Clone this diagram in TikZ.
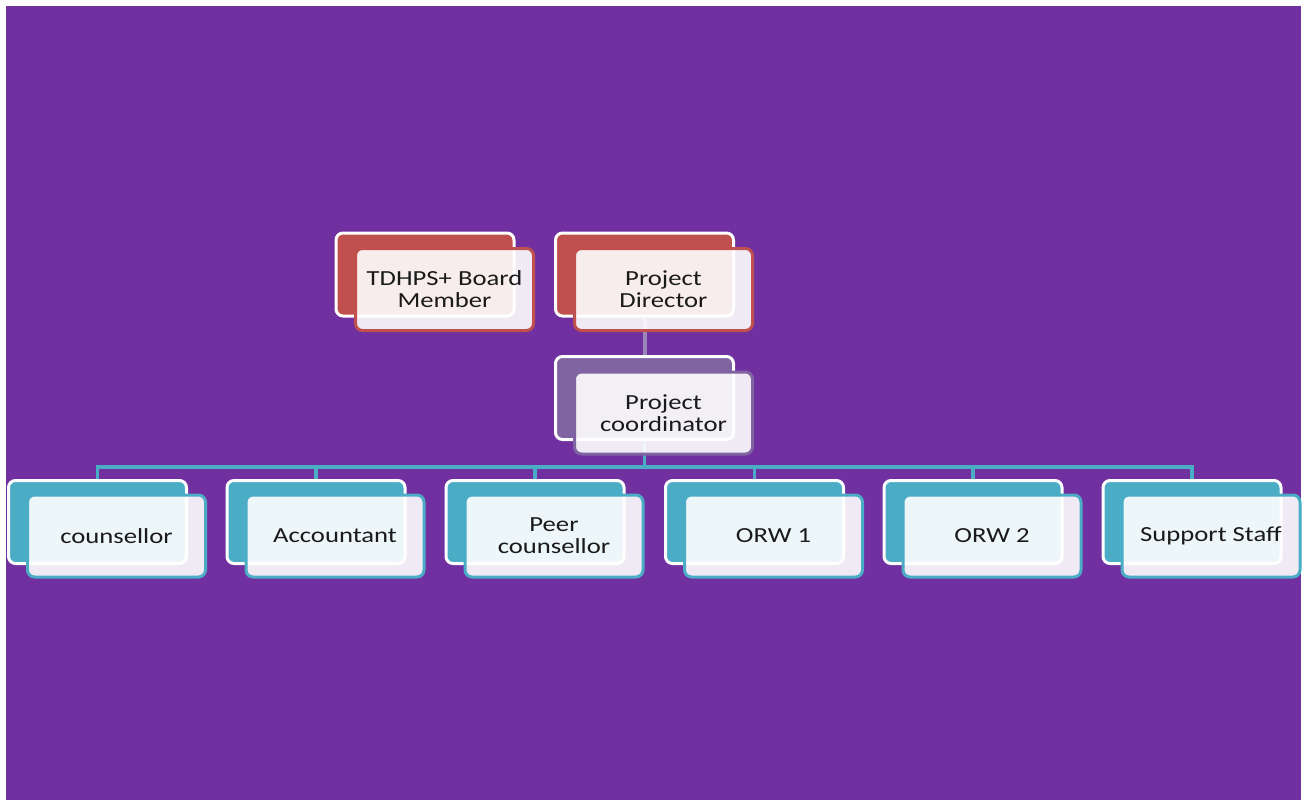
\documentclass[tikz,border=0pt]{standalone}
\usepackage{fontspec}
\setmainfont[FakeStretch=1.24]{Carlito}
\pgfdeclarelayer{bg}
\pgfdeclarelayer{lines}
\pgfsetlayers{bg,lines,main}
\definecolor{bgpurple}{HTML}{7030A0}
\definecolor{accred}{HTML}{C0504D}
\definecolor{accteal}{HTML}{4BACC6}
\definecolor{accpurple}{HTML}{8064A2}
\definecolor{linkpurple}{HTML}{9A87B8}
\definecolor{txt}{HTML}{1A1A1A}
\tikzset{
  backbox/.style={rectangle, rounded corners=7pt, draw=white, line width=3pt,
    fill=#1, minimum width=178pt, minimum height=83pt, inner sep=0pt},
  frontbox/.style={rectangle, rounded corners=7pt, draw=#1, line width=3pt,
    fill=white, fill opacity=0.9, text opacity=1, minimum width=178pt, minimum height=82pt,
    inner sep=0pt, align=center, text=txt,
    font=\fontsize{21.5}{22}\selectfont},
  tealline/.style={draw=accteal, line width=3.2pt},
  purpline/.style={draw=linkpurple, line width=4pt},
}
\begin{document}
\begin{tikzpicture}[x=1pt,y=-1pt]
\begin{pgfonlayer}{bg}
\fill[white] (0,0) rectangle (1310,796);
\fill[bgpurple] (6,6) rectangle (1301,800);
\end{pgfonlayer}
\useasboundingbox (0,0) rectangle (1310,796);

% top row
\node[backbox=accred] (tdb) at (425,274.5) {};
\node[frontbox=accred] (tdf) at (444.5,289.5) {TDHPS+ Board\\Member};
\node[backbox=accred] (pdb) at (644.5,274.5) {};
\node[frontbox=accred] (pdf) at (663.5,289.5) {Project\\Director};
% coordinator
\node[backbox=accpurple] (pcb) at (644.5,398) {};
\node[frontbox=accpurple] (pcf) at (663.5,413) {Project\\coordinator};

% bottom row
\foreach \n/\x/\t in {c1/97.5/counsellor, c2/316/Accountant, c3/535/{Peer\\counsellor},
                       c4/754.5/ORW 1, c5/973/ORW 2, c6/1192/Support Staff}{
  \node[backbox=accteal] (\n b) at (\x,522) {};
  \node[frontbox=accteal] (\n f) at ([xshift=19pt,yshift=-14pt]\n b.center) {\t};
}

\begin{pgfonlayer}{lines}
\draw[purpline] (pdb.south) -- (pcb.north);
\foreach \n in {c1,c2,c3,c4,c5,c6}{
  \draw[tealline, line join=miter] (pcb.south) -- ++(0,26) -| (\n b.north);
}
\end{pgfonlayer}
\end{tikzpicture}
\end{document}
